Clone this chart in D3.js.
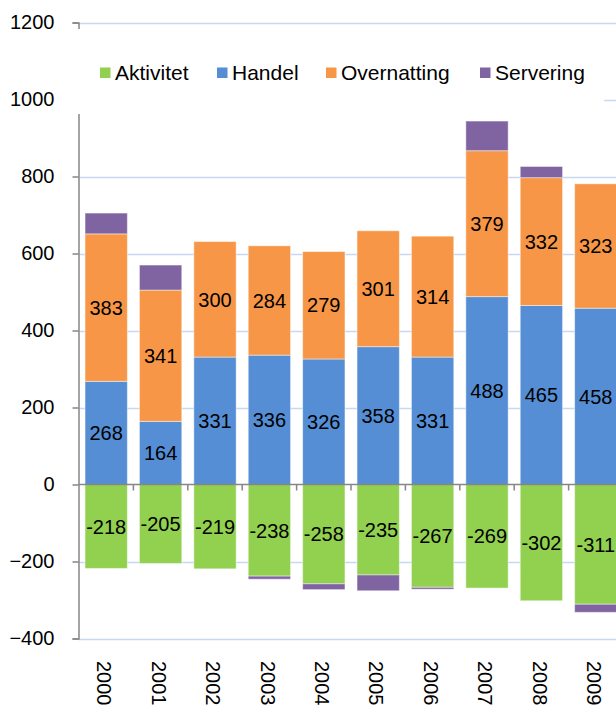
<!DOCTYPE html>
<html>
<head>
<meta charset="utf-8">
<script src="https://cdn.jsdelivr.net/npm/d3@7"></script>
<style>
  html, body { margin: 0; padding: 0; background: #fff; }
  svg { display: block; font-family: Arial, "Liberation Sans", sans-serif; }
</style>
</head>
<body>
<svg id="chart" width="616" height="707"></svg>
<script>
const years = ["2000","2001","2002","2003","2004","2005","2006","2007","2008","2009"];
const seriesNames = ["Aktivitet","Handel","Overnatting","Servering"];
const aktivitet   = [-218,-205,-219,-238,-258,-235,-267,-269,-302,-311];
const handel      = [268,164,331,336,326,358,331,488,465,458];
const overnatting = [383,341,300,284,279,301,314,379,332,323];
const servering   = [54,65,0,-8,-15,-41,-5,77,29,-21];
const yTicks = [-400,-200,0,200,400,600,800,1000,1200];
const colors = ["#92d050","#558ed5","#f79646","#8064a2"];
const labelled = [true,true,true,false];

const rows = years.map((y,i)=>({year:y, Aktivitet:aktivitet[i], Handel:handel[i], Overnatting:overnatting[i], Servering:servering[i]}));

const svg = d3.select("#chart");
const axisX = 78.5;
const y = d3.scaleLinear().domain([-400,1200]).range([638.5,22.5]);
const x = d3.scaleBand().domain(years).range([79, 79 + 54.4*years.length]).paddingInner(0.222).paddingOuter(0.111);

// gridlines
svg.append("g").selectAll("line").data(yTicks.filter(t=>t!==0)).join("line")
  .attr("x1", axisX).attr("x2", 616)
  .attr("y1", d=>Math.round(y(d))+0.5).attr("y2", d=>Math.round(y(d))+0.5)
  .attr("stroke", "#c6d9f1").attr("stroke-width", 1.5);

// stacked bars
const stack = d3.stack().keys(seriesNames).offset(d3.stackOffsetDiverging);
const stacked = stack(rows);
const gBars = svg.append("g");
stacked.forEach((s, si) => {
  gBars.append("g").selectAll("rect").data(s.filter(d=>d[1]!==d[0])).join("rect")
    .attr("x", d=>x(d.data.year))
    .attr("width", x.bandwidth())
    .attr("y", d=>y(Math.max(d[0],d[1])))
    .attr("height", d=>Math.abs(y(d[0])-y(d[1])))
    .attr("fill", colors[si])
    .attr("stroke", "#ffffff").attr("stroke-opacity", 0.45).attr("stroke-width", 1);
});

// data labels
stacked.forEach((s, si) => {
  if (!labelled[si]) return;
  svg.append("g").selectAll("text").data(s).join("text")
    .attr("x", d=>x(d.data.year) + x.bandwidth()/2)
    .attr("y", d=>y((d[0]+d[1])/2))
    .attr("dy", "0.36em")
    .attr("text-anchor", "middle")
    .attr("font-size", 20)
    .attr("fill", "#000")
    .text(d=>d.data[s.key]);
});

// y axis
const yAxis = d3.axisLeft(y).tickValues(yTicks).tickSize(6).tickPadding(18).tickFormat(d3.format("d"));
const gy = svg.append("g").attr("transform", `translate(${axisX},0)`).call(yAxis);
gy.select(".domain").attr("stroke", "#868686").attr("stroke-width", 1.5);
gy.selectAll(".tick line").attr("stroke", "#868686").attr("stroke-width", 1.5);
gy.selectAll(".tick text").attr("font-size", 20).attr("fill", "#000").attr("font-family", "Arial, 'Liberation Sans', sans-serif");

// x axis at zero
const gx = svg.append("g").attr("transform", `translate(0,${y(0)})`);
gx.append("line").attr("x1", axisX).attr("x2", 616).attr("y1",0).attr("y2",0)
  .attr("stroke", "#868686").attr("stroke-width", 1.5);
const bounds = years.map((d,i)=>79 + 54.4*(i+1));
gx.selectAll("line.tk").data(bounds).join("line").attr("class","tk")
  .attr("x1", d=>d).attr("x2", d=>d).attr("y1", 0).attr("y2", 6)
  .attr("stroke", "#868686").attr("stroke-width", 1.5);

// category labels (rotated)
svg.append("g").selectAll("text").data(years).join("text")
  .attr("transform", d=>`translate(${x(d)+x.bandwidth()/2 - 1.5},661) rotate(90)`)
  .attr("dy", "0.36em")
  .attr("text-anchor", "start")
  .attr("font-size", 20)
  .attr("fill", "#000")
  .text(d=>d);

// legend (overlays plot area)
const lg = svg.append("g");
lg.append("rect").attr("x", 66).attr("y", 29).attr("width", 538).attr("height", 85).attr("fill", "#fff");
const legendX = [100, 217, 326, 480];
seriesNames.forEach((n,i)=>{
  lg.append("rect").attr("x", legendX[i]).attr("y", 67.5).attr("width", 10.5).attr("height", 10.5).attr("fill", colors[i]);
  lg.append("text").attr("x", legendX[i]+15).attr("y", 72).attr("dy","0.36em")
    .attr("font-size", 21).attr("fill","#000").text(n);
});
</script>
</body>
</html>
